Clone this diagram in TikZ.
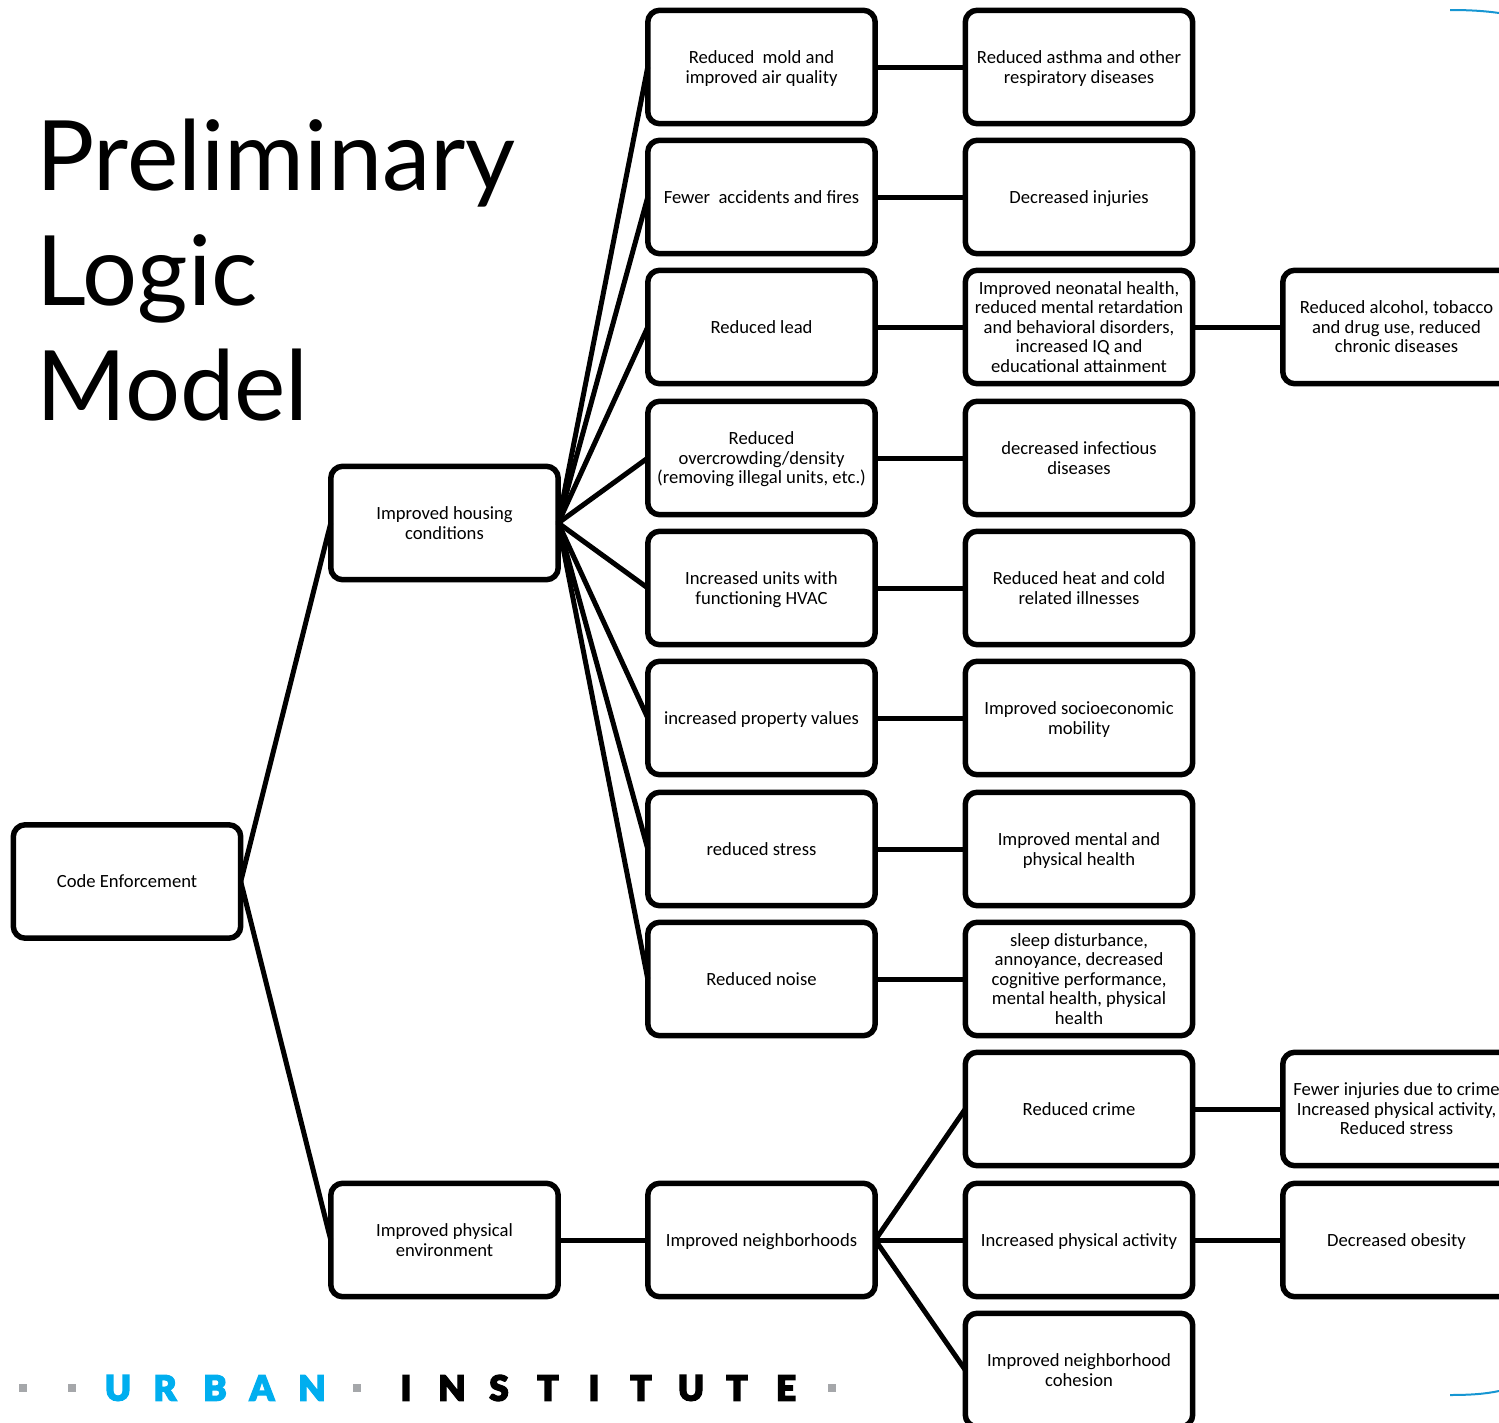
\documentclass[tikz,border=0pt]{standalone}
\usepackage{fontspec}
\setmainfont{Carlito}
\newfontfamily\titlefont{Lato}
\newfontfamily\logofont[FakeBold=3.5]{Lato Black}
\usepackage{tikz}
\usetikzlibrary{positioning}
\definecolor{urbanblue}{HTML}{00AEEF}
\definecolor{arcblue}{HTML}{1696D2}
\definecolor{logogray}{HTML}{A5A7AA}
\tikzset{
    box/.style={draw=black, line width=0.11cm, rounded corners=0.24cm, minimum width=4.55cm, minimum height=2.27cm,
        inner sep=0pt, outer sep=0pt, align=center, text depth=0pt, font=\fontsize{10.6}{11.1}\selectfont},
    link/.style={black, line width=0.1cm},
    logoletter/.style={inner sep=0pt, font=\logofont\fontsize{20}{20}\selectfont},
    logodot/.style={fill=logogray, minimum width=0.16cm, minimum height=0.17cm, inner sep=0pt}
}

\begin{document}
\begin{tikzpicture}[x=0.02cm, y=-0.02cm]
        \useasboundingbox (0, 0) rectangle (1499, 1423);

        % Title
        \node[anchor=base west, inner sep=0pt] (titleone) at (36, 190) {\titlefont\fontsize{55.3}{56}\selectfont Preliminary};
        \node[anchor=base west, inner sep=0pt] (titletwo) at (36, 305) {\titlefont\fontsize{55.3}{56}\selectfont Logic};
        \node[anchor=base west, inner sep=0pt] (titlethree) at (36, 420) {\titlefont\fontsize{55.3}{56}\selectfont Model};

        % First columns
        \node[box] (code) at (127, 881.5) {Code Enforcement};
        \node[box] (housing) at (444.5, 523) {Improved housing\\conditions};
        \node[box] (physical) at (444.5, 1240) {Improved physical\\environment};

        % Third column
        \node[box] (mold) at (761.5, 67) {Reduced~ mold and\\improved air quality};
        \node[box] (accidents) at (761.5, 197) {Fewer~ accidents and fires};
        \node[box] (lead) at (761.5, 327) {Reduced lead};
        \node[box] (overcrowding) at (761.5, 458) {Reduced\\overcrowding/density\\(removing illegal units, etc.)};
        \node[box] (hvac) at (761.5, 588) {Increased units with\\functioning HVAC};
        \node[box] (property) at (761.5, 718) {increased property values};
        \node[box] (stress) at (761.5, 849) {reduced stress};
        \node[box] (noise) at (761.5, 979) {Reduced noise};
        \node[box] (neighborhoods) at (761.5, 1240) {Improved neighborhoods};

        % Fourth column
        \node[box] (asthma) at (1079, 67) {Reduced asthma and other\\respiratory diseases};
        \node[box] (injuries) at (1079, 197) {Decreased injuries};
        \node[box] (neonatal) at (1079, 327) {Improved neonatal health,\\reduced mental retardation\\and behavioral disorders,\\increased IQ and\\educational attainment};
        \node[box] (infectious) at (1079, 458) {decreased infectious\\diseases};
        \node[box] (illnesses) at (1079, 588) {Reduced heat and cold\\related illnesses};
        \node[box] (mobility) at (1079, 718) {Improved socioeconomic\\mobility};
        \node[box] (mental) at (1079, 849) {Improved mental and\\physical health};
        \node[box] (sleep) at (1079, 979) {sleep disturbance,\\annoyance, decreased\\cognitive performance,\\mental health, physical\\health};
        \node[box] (crime) at (1079, 1109) {Reduced crime};
        \node[box] (activity) at (1079, 1240) {Increased physical activity};
        \node[box] (cohesion) at (1079, 1370) {Improved neighborhood\\cohesion};

        % Last column, cut by the page
        \node[box] (alcohol) at (1396.5, 327) {Reduced alcohol, tobacco\\and drug use, reduced\\chronic diseases};
        \node[box] (fewer) at (1396.5, 1109) {Fewer injuries due to crime\\Increased physical activity,\\Reduced stress};
        \node[box] (obesity) at (1396.5, 1240) {Decreased obesity};

        % Links
        \draw[link] (code.east) -- (housing.west);
        \draw[link] (code.east) -- (physical.west);
        \foreach \target in {mold, accidents, lead, overcrowding, hvac, property, stress, noise}
            \draw[link] (housing.east) -- (\target.west);
        \draw[link] (physical) -- (neighborhoods);
        \draw[link] (neighborhoods.east) -- (crime.west);
        \draw[link] (neighborhoods.east) -- (activity.west);
        \draw[link] (neighborhoods.east) -- (cohesion.west);
        \draw[link] (mold) -- (asthma);
        \draw[link] (accidents) -- (injuries);
        \draw[link] (lead) -- (neonatal);
        \draw[link] (overcrowding) -- (infectious);
        \draw[link] (hvac) -- (illnesses);
        \draw[link] (property) -- (mobility);
        \draw[link] (stress) -- (mental);
        \draw[link] (noise) -- (sleep);
        \draw[link] (neonatal) -- (alcohol);
        \draw[link] (crime) -- (fewer);
        \draw[link] (activity) -- (obesity);

        % Logo
        \foreach \x/\c in {118/U, 165/R, 215/B, 262/A, 312/N}
            \node[logoletter, text=urbanblue] (urban\x) at (\x, 1388) {\c};
        \foreach \x/\c in {406/I, 452/N, 499/S, 548/T, 594/I, 641/T, 691/U, 737/T, 786/E}
            \node[logoletter, text=black] (inst\x) at (\x, 1388) {\c};
        \foreach \x in {23, 72, 357, 832}
            \node[logodot] (dot\x) at (\x, 1388) {};

        % Corner arcs
        \draw[arcblue, line width=0.04cm] (1450, 10) .. controls (1470, 10) and (1485, 11) .. (1499, 13);
        \draw[arcblue, line width=0.04cm] (1450, 1395) .. controls (1470, 1395) and (1485, 1394) .. (1499, 1391);
    \end{tikzpicture}
\end{document}
